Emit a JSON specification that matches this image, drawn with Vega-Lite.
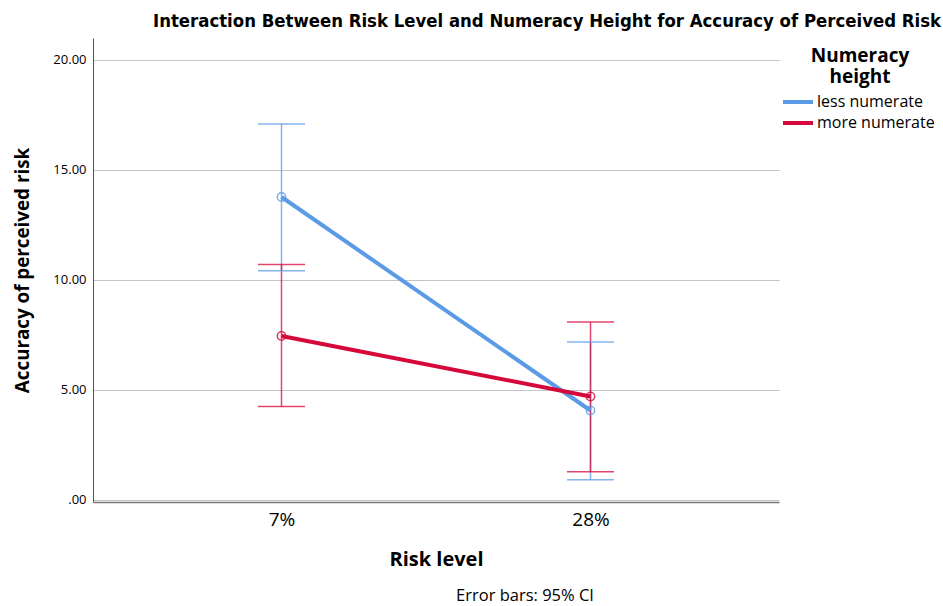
{
  "$schema": "https://vega.github.io/schema/vega-lite/v6.json",
  "background": "white",
  "padding": {"left": 13, "top": 11, "right": 3, "bottom": 0},
  "title": {
    "text": "Interaction Between Risk Level and Numeracy Height for Accuracy of Perceived Risk",
    "font": "Liberation Sans Narrow, DejaVu Sans Condensed, sans-serif",
    "fontSize": 18.4,
    "fontWeight": "bold",
    "color": "#000000",
    "anchor": "end",
    "dx": -3,
    "offset": 8
  },
  "datasets": {
    "stats": [
      {"risk": "7%", "group": "less numerate", "mean": 13.77, "lower": 10.42, "upper": 17.09},
      {"risk": "28%", "group": "less numerate", "mean": 4.06, "lower": 0.91, "upper": 7.18},
      {"risk": "7%", "group": "more numerate", "mean": 7.45, "lower": 4.24, "upper": 10.7},
      {"risk": "28%", "group": "more numerate", "mean": 4.7, "lower": 1.27, "upper": 8.08}
    ]
  },
  "vconcat": [
    {
      "width": 686,
      "height": 464,
      "title": {
        "text": "Error bars: 95% CI",
        "orient": "bottom",
        "anchor": "middle",
        "dx": 89,
        "offset": 19,
        "font": "Open Sans",
        "fontSize": 16.5,
        "fontWeight": "normal",
        "color": "#000000"
      },
      "data": {"name": "stats"},
      "encoding": {
        "x": {
          "field": "risk",
          "type": "nominal",
          "sort": ["7%", "28%"],
          "title": "Risk level",
          "scale": {"type": "point", "padding": 0.61},
          "axis": {
            "labelAngle": 0,
            "labelFontSize": 19,
            "labelFont": "Open Sans",
            "labelColor": "#000000",
            "labelPadding": 8,
            "ticks": false,
            "domainColor": "#777777",
            "domainWidth": 1.5,
            "grid": false,
            "titleFont": "Open Sans",
            "titleFontSize": 20,
            "titleFontWeight": "bold",
            "titleColor": "#000000",
            "titlePadding": 20
          }
        },
        "color": {
          "field": "group",
          "type": "nominal",
          "title": ["Numeracy", "height"],
          "scale": {"domain": ["less numerate", "more numerate"], "range": ["#5b9be6", "#d6083b"]},
          "legend": {
            "symbolType": "M-1.5,0H1.5",
            "symbolStrokeWidth": 4,
            "symbolSize": 400,
            "symbolOpacity": 1,
            "labelFont": "Open Sans",
            "labelFontSize": 16,
            "labelOffset": 7,
            "labelColor": "#000000",
            "titleFont": "Open Sans",
            "titleFontSize": 19,
            "titleFontWeight": "bold",
            "titleColor": "#000000",
            "titleAlign": "center",
            "titleAnchor": "middle",
            "titleLineHeight": 21,
            "titlePadding": 3,
            "rowPadding": 1,
            "offset": -2,
            "padding": 9
          }
        }
      },
      "layer": [
        {
          "mark": {"type": "rule", "strokeWidth": 1.5, "opacity": 0.75},
          "encoding": {
            "y": {
              "field": "lower",
              "type": "quantitative",
              "title": "Accuracy of perceived risk",
              "scale": {"domain": [-0.1, 21], "nice": false, "zero": false},
              "axis": {
                "values": [0, 5, 10, 15, 20],
                "labelExpr": "datum.value == 0 ? '.00' : format(datum.value, '.2f')",
                "labelFont": "Open Sans",
                "labelFontSize": 13,
                "labelColor": "#000000",
                "labelPadding": 7,
                "ticks": false,
                "domainColor": "#555555",
                "grid": true,
                "gridColor": "#c4c4c4",
                "gridWidth": 1.2,
                "titleFont": "Open Sans",
                "titleFontSize": 18.8,
                "titleFontWeight": "bold",
                "titleColor": "#000000",
                "titlePadding": 20
              }
            },
            "y2": {"field": "upper"}
          }
        },
        {
          "mark": {"type": "tick", "size": 47, "thickness": 1.5, "opacity": 0.75},
          "encoding": {"y": {"field": "upper", "type": "quantitative"}}
        },
        {
          "mark": {"type": "tick", "size": 47, "thickness": 1.5, "opacity": 0.75},
          "encoding": {"y": {"field": "lower", "type": "quantitative"}}
        },
        {
          "mark": {"type": "line", "strokeWidth": 4},
          "encoding": {"y": {"field": "mean", "type": "quantitative"}}
        },
        {
          "mark": {"type": "point", "filled": false, "size": 70, "strokeWidth": 1.5, "opacity": 0.8},
          "encoding": {"y": {"field": "mean", "type": "quantitative"}}
        }
      ]
    }
  ],
  "config": {
    "view": {"stroke": null},
    "concat": {"spacing": 0}
  }
}
